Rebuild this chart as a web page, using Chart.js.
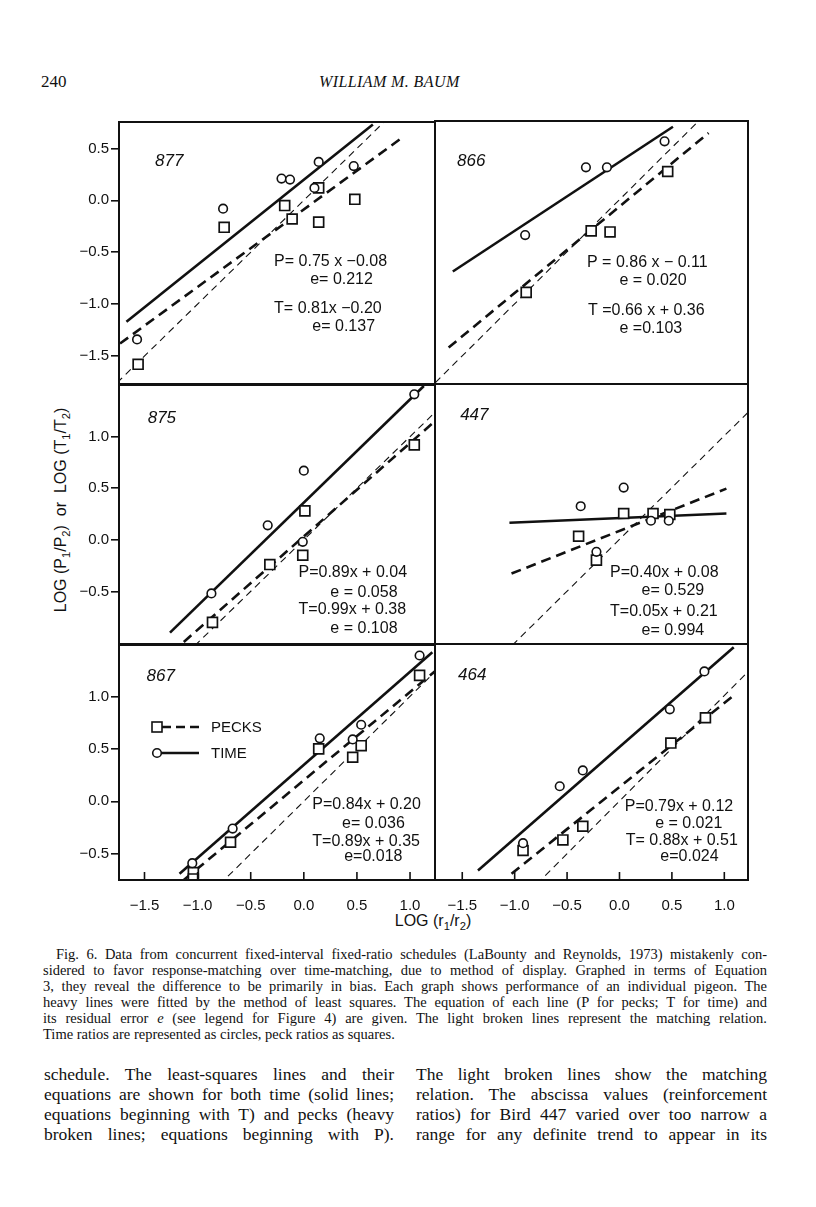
<!DOCTYPE html>
<html>
<head>
<meta charset="utf-8">
<script src="https://cdn.jsdelivr.net/npm/chart.js@4.4.0/dist/chart.umd.min.js"></script>
<style>
  body { margin:0; background:#fff; width:816px; height:1207px; position:relative; overflow:hidden; color:#111; font-family:'Liberation Serif', serif; }
  canvas { position:absolute; }
  .abs { position:absolute; white-space:nowrap; }
  #hdrNum { left:41px; top:72px; font-size:17px; line-height:20px; }
  #hdrName { left:319px; top:72px; font-size:16px; line-height:20px; font-style:italic; letter-spacing:0.4px; }
  #ytitle { left:-69px; top:500px; width:260px; height:20px; line-height:20px; text-align:center; transform:rotate(-90deg);
            font-family:'Liberation Sans', sans-serif; font-size:16px; }
  #xtitle { left:333px; top:911px; width:200px; line-height:20px; text-align:center; font-family:'Liberation Sans', sans-serif; font-size:16px; }
  sub { font-size:70%; vertical-align:-0.35em; line-height:0; }
  .block { position:absolute; }
  .ln { text-align:justify; text-align-last:justify; }
  #caption { left:43px; top:946px; width:724px; font-size:14.5px; line-height:16px; }
  #caption .first { text-indent:13px; }
  #caption .last { text-align-last:left; }
  #bodyL { left:44px; top:1064px; width:350px; font-size:17.5px; line-height:20px; }
  #bodyR { left:416px; top:1064px; width:351px; font-size:17.5px; line-height:20px; }
</style>
</head>
<body>
<div class="abs" id="hdrNum">240</div>
<div class="abs" id="hdrName">WILLIAM M. BAUM</div>
<div class="abs" id="ytitle">LOG (P<sub>1</sub>/P<sub>2</sub>) &nbsp;or&nbsp; LOG (T<sub>1</sub>/T<sub>2</sub>)</div>
<div class="abs" id="xtitle">LOG (r<sub>1</sub>/r<sub>2</sub>)</div>

<div class="block" id="caption">
  <div class="ln first">Fig. 6. Data from concurrent fixed-interval fixed-ratio schedules (LaBounty and Reynolds, 1973) mistakenly con-</div>
  <div class="ln">sidered to favor response-matching over time-matching, due to method of display. Graphed in terms of Equation</div>
  <div class="ln">3, they reveal the difference to be primarily in bias. Each graph shows performance of an individual pigeon. The</div>
  <div class="ln">heavy lines were fitted by the method of least squares. The equation of each line (P for pecks; T for time) and</div>
  <div class="ln">its residual error <i>e</i> (see legend for Figure 4) are given. The light broken lines represent the matching relation.</div>
  <div class="ln last">Time ratios are represented as circles, peck ratios as squares.</div>
</div>
<div class="block" id="bodyL">
  <div class="ln">schedule. The least-squares lines and their</div>
  <div class="ln">equations are shown for both time (solid lines;</div>
  <div class="ln">equations beginning with T) and pecks (heavy</div>
  <div class="ln">broken lines; equations beginning with P).</div>
</div>
<div class="block" id="bodyR">
  <div class="ln">The light broken lines show the matching</div>
  <div class="ln">relation. The abscissa values (reinforcement</div>
  <div class="ln">ratios) for Bird 447 varied over too narrow a</div>
  <div class="ln">range for any definite trend to appear in its</div>
</div>

<script>
// ---- data ----
const xTicks = [-1.5, -1.0, -0.5, 0.0, 0.5, 1.0];
const rowYTicks = [[0.5, 0.0, -0.5, -1.0, -1.5], [1.0, 0.5, 0.0, -0.5], [1.0, 0.5, 0.0, -0.5]];
const rowYMin = [-1.77, -1.01, -0.75];
const rowYMax = [0.755, 1.50, 1.49];
const colXMin = [-1.74, -1.76];
const colXMax = [1.235, 1.226];
const birds = ['877', '866', '875', '447', '867', '464'];
const matchX = [-2, 2]; // matching relation y = x

// bird 877
const b877TimeX = [-1.57, -0.76, -0.21, -0.13, 0.14, 0.10, 0.47];
const b877TimeY = [-1.34, -0.08, 0.21, 0.20, 0.37, 0.12, 0.33];
const b877PeckX = [-1.56, -0.75, -0.18, -0.11, 0.14, 0.14, 0.48];
const b877PeckY = [-1.58, -0.26, -0.05, -0.18, 0.12, -0.21, 0.01];
const b877TimeLineX = [-1.67, 0.65], b877TimeLineY = [-1.17, 0.73];
const b877PeckLineX = [-1.73, 0.92], b877PeckLineY = [-1.38, 0.60];
const b877Eq = ['P= 0.75 x \u22120.08', 'e= 0.212', 'T= 0.81x \u22120.20', 'e= 0.137'];

// bird 866
const b866TimeX = [-0.90, -0.32, -0.12, 0.43];
const b866TimeY = [-0.34, 0.31, 0.31, 0.56];
const b866PeckX = [-0.89, -0.27, -0.09, 0.46];
const b866PeckY = [-0.89, -0.30, -0.31, 0.27];
const b866TimeLineX = [-1.59, 0.51], b866TimeLineY = [-0.69, 0.70];
const b866PeckLineX = [-1.63, 0.85], b866PeckLineY = [-1.42, 0.64];
const b866Eq = ['P = 0.86 x \u2212 0.11', 'e = 0.020', 'T =0.66 x + 0.36', 'e =0.103'];

// bird 875
const b875TimeX = [-0.87, -0.34, 0.00, -0.01, 1.04];
const b875TimeY = [-0.52, 0.14, 0.67, -0.02, 1.41];
const b875PeckX = [-0.86, -0.32, 0.01, -0.01, 1.04];
const b875PeckY = [-0.80, -0.24, 0.28, -0.15, 0.92];
const b875TimeLineX = [-1.26, 1.13], b875TimeLineY = [-0.90, 1.49];
const b875PeckLineX = [-1.13, 1.235], b875PeckLineY = [-0.99, 1.15];
const b875Eq = ['P=0.89x + 0.04', 'e = 0.058', 'T=0.99x + 0.38', 'e = 0.108'];

// bird 447
const b447TimeX = [-0.37, 0.04, -0.22, 0.30, 0.47];
const b447TimeY = [0.32, 0.50, -0.12, 0.18, 0.18];
const b447PeckX = [-0.39, -0.22, 0.04, 0.32, 0.48];
const b447PeckY = [0.03, -0.20, 0.25, 0.25, 0.24];
const b447TimeLineX = [-1.05, 1.02], b447TimeLineY = [0.16, 0.25];
const b447PeckLineX = [-1.03, 1.02], b447PeckLineY = [-0.33, 0.49];
const b447Eq = ['P=0.40x + 0.08', 'e= 0.529', 'T=0.05x + 0.21', 'e= 0.994'];

// bird 867
const b867TimeX = [-1.05, -0.67, 0.15, 0.46, 0.54, 1.09];
const b867TimeY = [-0.59, -0.26, 0.60, 0.59, 0.73, 1.39];
const b867PeckX = [-1.04, -1.04, -0.69, 0.14, 0.46, 0.54, 1.09];
const b867PeckY = [-0.68, -0.74, -0.39, 0.50, 0.42, 0.53, 1.20];
const b867TimeLineX = [-1.17, 1.21], b867TimeLineY = [-0.69, 1.42];
const b867PeckLineX = [-1.13, 1.235], b867PeckLineY = [-0.75, 1.24];
const b867Eq = ['P=0.84x + 0.20', 'e= 0.036', 'T=0.89x + 0.35', 'e=0.018'];

// bird 464
const b464TimeX = [-0.92, -0.57, -0.35, 0.48, 0.81];
const b464TimeY = [-0.40, 0.14, 0.29, 0.87, 1.23];
const b464PeckX = [-0.92, -0.54, -0.35, 0.49, 0.82];
const b464PeckY = [-0.47, -0.37, -0.24, 0.55, 0.79];
const b464TimeLineX = [-1.35, 1.09], b464TimeLineY = [-0.66, 1.46];
const b464PeckLineX = [-1.03, 1.10], b464PeckLineY = [-0.69, 1.01];
const b464Eq = ['P=0.79x + 0.12', 'e = 0.021', 'T= 0.88x + 0.51', 'e=0.024'];

// ---- layout (pixels / text anchors) ----
const INK = '#111';
const colLeft = [119, 435], colWidth = [316, 313];
const rowTop = [121, 384, 644], rowHeight = [263, 260, 236];
const PAD_L = 70, PAD_T = 10, PAD_R = 10, PAD_B = 38;
// anchors in data units: bird id, then equation lines (left edge, middle)
const notePos = {
  '877': { id: [-1.40, 0.38], eq: [[-0.28, -0.59], [0.06, -0.76], [-0.28, -1.04], [0.08, -1.22]] },
  '866': { id: [-1.55, 0.37], eq: [[-0.31, -0.60], [0.00, -0.78], [-0.30, -1.07], [0.00, -1.24]] },
  '875': { id: [-1.47, 1.18], eq: [[-0.05, -0.32], [0.25, -0.51], [-0.05, -0.68], [0.25, -0.86]] },
  '447': { id: [-1.52, 1.20], eq: [[-0.09, -0.32], [0.21, -0.49], [-0.09, -0.70], [0.21, -0.88]] },
  '867': { id: [-1.48, 1.19], eq: [[0.08, -0.03], [0.36, -0.21], [0.08, -0.38], [0.38, -0.53]] },
  '464': { id: [-1.54, 1.19], eq: [[0.05, -0.05], [0.34, -0.21], [0.06, -0.38], [0.39, -0.53]] }
};

const series = {
  '877': [b877TimeX, b877TimeY, b877PeckX, b877PeckY, b877TimeLineX, b877TimeLineY, b877PeckLineX, b877PeckLineY, b877Eq],
  '866': [b866TimeX, b866TimeY, b866PeckX, b866PeckY, b866TimeLineX, b866TimeLineY, b866PeckLineX, b866PeckLineY, b866Eq],
  '875': [b875TimeX, b875TimeY, b875PeckX, b875PeckY, b875TimeLineX, b875TimeLineY, b875PeckLineX, b875PeckLineY, b875Eq],
  '447': [b447TimeX, b447TimeY, b447PeckX, b447PeckY, b447TimeLineX, b447TimeLineY, b447PeckLineX, b447PeckLineY, b447Eq],
  '867': [b867TimeX, b867TimeY, b867PeckX, b867PeckY, b867TimeLineX, b867TimeLineY, b867PeckLineX, b867PeckLineY, b867Eq],
  '464': [b464TimeX, b464TimeY, b464PeckX, b464PeckY, b464TimeLineX, b464TimeLineY, b464PeckLineX, b464PeckLineY, b464Eq]
};

const pts = (xs, ys) => xs.map((x, i) => ({ x: x, y: ys[i] }));
const fmt = v => v.toFixed(1).replace('-', '\u2212');

Chart.defaults.font.family = "'Liberation Sans', sans-serif";
Chart.defaults.color = INK;

function makeDeco(bird, row, withLegend) {
  return {
    id: 'deco' + bird,
    afterDatasetsDraw(chart) {
      const { ctx, chartArea: a, scales: { x, y } } = chart;
      const pos = notePos[bird];
      ctx.save();
      ctx.fillStyle = INK;
      ctx.strokeStyle = INK;
      ctx.textAlign = 'left';
      ctx.textBaseline = 'middle';
      ctx.font = "italic 17px 'Liberation Sans'";
      ctx.fillText(bird, x.getPixelForValue(pos.id[0]), y.getPixelForValue(pos.id[1]));
      ctx.font = "16px 'Liberation Sans'";
      series[bird][8].forEach((t, k) => {
        ctx.fillText(t, x.getPixelForValue(pos.eq[k][0]), y.getPixelForValue(pos.eq[k][1]));
      });
      // frame
      ctx.lineWidth = 2;
      ctx.strokeRect(a.left, a.top, a.width, a.height);
      // inward x ticks on the bottom row
      if (row === 2) {
        ctx.lineWidth = 1.6;
        xTicks.forEach(v => {
          const px = x.getPixelForValue(v);
          ctx.beginPath();
          ctx.moveTo(px, a.bottom);
          ctx.lineTo(px, a.bottom - 8);
          ctx.stroke();
        });
      }
      if (withLegend) {
        const lx = a.left + 38, y1 = a.top + 82, y2 = a.top + 108;
        ctx.lineWidth = 2.6;
        ctx.setLineDash([9, 5]);
        ctx.beginPath(); ctx.moveTo(lx + 5, y1); ctx.lineTo(lx + 42, y1); ctx.stroke();
        ctx.setLineDash([]);
        ctx.beginPath(); ctx.moveTo(lx + 4, y2); ctx.lineTo(lx + 42, y2); ctx.stroke();
        ctx.lineWidth = 1.6;
        ctx.fillStyle = '#fff';
        ctx.fillRect(lx - 5, y1 - 5, 10, 10);
        ctx.strokeRect(lx - 5, y1 - 5, 10, 10);
        ctx.beginPath(); ctx.arc(lx, y2, 4.3, 0, Math.PI * 2); ctx.fill(); ctx.stroke();
        ctx.fillStyle = INK;
        ctx.font = "15px 'Liberation Sans'";
        ctx.fillText('PECKS', a.left + 92, y1 + 1);
        ctx.fillText('TIME', a.left + 92, y2 + 1);
      }
      ctx.restore();
    }
  };
}

birds.forEach((bird, i) => {
  const col = i % 2, row = Math.floor(i / 2);
  const s = series[bird];
  const cv = document.createElement('canvas');
  const w = colWidth[col] + PAD_L + PAD_R, h = rowHeight[row] + PAD_T + PAD_B;
  cv.width = w; cv.height = h;
  cv.style.width = w + 'px'; cv.style.height = h + 'px';
  cv.style.left = (colLeft[col] - PAD_L) + 'px';
  cv.style.top = (rowTop[row] - PAD_T) + 'px';
  document.body.appendChild(cv);

  new Chart(cv.getContext('2d'), {
    type: 'scatter',
    data: {
      datasets: [
        { data: pts(s[0], s[1]), pointStyle: 'circle', pointRadius: 4.3, borderWidth: 1.6,
          borderColor: INK, backgroundColor: '#fff', showLine: false, order: 0, clip: 0 },
        { data: pts(s[2], s[3]), pointStyle: 'rect', pointRadius: 7, borderWidth: 1.7,
          borderColor: INK, backgroundColor: '#fff', showLine: false, order: 0, clip: 0 },
        { data: pts(s[4], s[5]), showLine: true, pointRadius: 0, borderWidth: 2.6,
          borderColor: INK, order: 1, clip: 0 },
        { data: pts(s[6], s[7]), showLine: true, pointRadius: 0, borderWidth: 2.6, borderDash: [10, 6],
          borderColor: INK, order: 1, clip: 0 },
        { data: pts(matchX, matchX), showLine: true, pointRadius: 0, borderWidth: 1.1, borderDash: [7, 5],
          borderColor: INK, order: 2, clip: 0 }
      ]
    },
    options: {
      responsive: false,
      animation: false,
      layout: { padding: { left: 0, top: PAD_T, right: PAD_R, bottom: 0 } },
      plugins: { legend: { display: false }, tooltip: { enabled: false } },
      scales: {
        x: {
          type: 'linear', min: colXMin[col], max: colXMax[col],
          afterFit: sc => { sc.height = PAD_B; },
          afterBuildTicks: sc => { sc.ticks = xTicks.map(v => ({ value: v })); },
          grid: { display: false }, border: { display: false },
          ticks: { display: row === 2, padding: 9, autoSkip: false, maxRotation: 0,
                   font: { size: 15 }, color: INK, callback: fmt }
        },
        y: {
          type: 'linear', min: rowYMin[row], max: rowYMax[row],
          afterFit: sc => { sc.width = PAD_L; },
          afterBuildTicks: sc => { sc.ticks = rowYTicks[row].map(v => ({ value: v })); },
          grid: { display: col === 0, drawOnChartArea: false, drawTicks: true, tickLength: 8,
                  color: INK, lineWidth: 1.6 },
          border: { display: false },
          ticks: { display: col === 0, padding: 2, autoSkip: false,
                   font: { size: 15 }, color: INK, callback: fmt }
        }
      }
    },
    plugins: [makeDeco(bird, row, bird === '867')]
  });
});
</script>
</body>
</html>
